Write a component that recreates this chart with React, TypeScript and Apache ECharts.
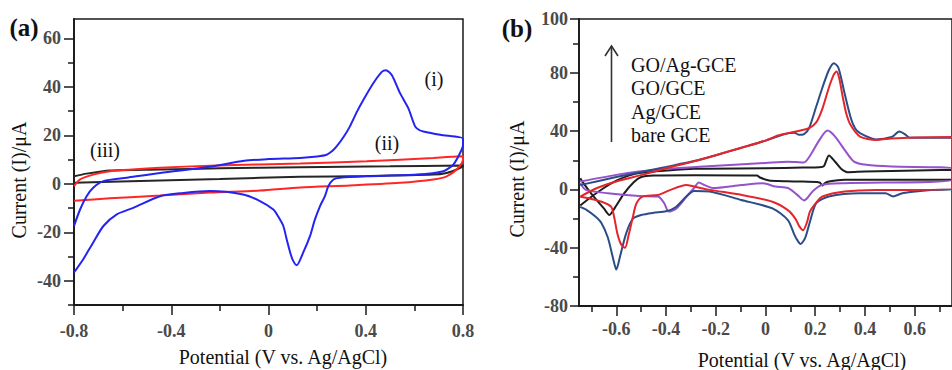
import React, { useEffect, useRef } from "react";
import * as echarts from "echarts";

// ---------- Panel (a) data: [potential V, current µA] ----------
const A_X_TICKS = [-0.8, -0.4, 0, 0.4, 0.8];
const A_Y_TICKS = [-40, -20, 0, 20, 40, 60];
const A_Y_MINOR = [-50, -30, -10, 10, 30, 50];

const A_BLUE_I = [
  [-0.8, -17.4], [-0.775, -10.6], [-0.748, -5.1], [-0.721, -1.6], [-0.679, 1.1], [-0.583, 2.5],
  [-0.446, 4.5], [-0.241, 7.0], [-0.1, 9.5], [0.0, 10.2], [0.13, 10.7], [0.2, 11.3], [0.239, 12.0],
  [0.262, 13.5], [0.281, 15.5], [0.31, 19.5], [0.335, 23.7], [0.365, 30], [0.39, 34.6], [0.431, 41.5],
  [0.466, 46.2], [0.483, 46.9], [0.507, 44.9], [0.541, 37.4], [0.575, 31.2], [0.603, 23.7], [0.62, 22.2],
  [0.637, 21.6], [0.706, 20.2], [0.8, 18.6],
  [0.8, 16], [0.788, 12.7], [0.76, 7.9], [0.719, 5.2], [0.61, 3.8], [0.404, 3.1], [0.294, 2.5],
  [0.267, 1.8], [0.246, -1.0], [0.232, -5.1], [0.212, -9.2], [0.19, -15], [0.171, -21.5], [0.143, -28.3],
  [0.116, -33.6], [0.1, -31.5], [0.089, -28.3], [0.075, -23], [0.061, -17.4], [0.04, -13.5], [0.02, -10.6],
  [-0.035, -7.1], [-0.104, -4.4], [-0.241, -3.0], [-0.35, -3.8], [-0.446, -5.1], [-0.556, -9.9],
  [-0.624, -12.6], [-0.679, -17.4], [-0.721, -24.2], [-0.762, -31.1], [-0.8, -36.6],
];
const A_RED_II = [
  [-0.8, -1], [-0.775, 1.8], [-0.721, 3.8], [-0.652, 5.2], [-0.446, 6.6], [-0.241, 7.5], [-0.035, 8.0],
  [0.13, 8.4], [0.404, 9.3], [0.678, 10.7], [0.8, 11.4],
  [0.8, 10], [0.774, 5.9], [0.733, 3.1], [0.678, 1.8], [0.541, 0.4], [0.335, -0.7], [0.13, -1.5],
  [-0.035, -2.8], [-0.241, -3.6], [-0.446, -4.8], [-0.652, -6.0], [-0.8, -7.0],
];
const A_BLACK_III = [
  [-0.8, 3.1], [-0.748, 4.2], [-0.652, 5.5], [-0.446, 5.9], [-0.2, 6.4], [0.13, 6.8], [0.5, 7.2], [0.8, 7.6],
  [0.8, 7.2], [0.774, 5.9], [0.733, 4.5], [0.678, 3.8], [0.4, 3.2], [0.13, 2.9], [-0.2, 2.0], [-0.446, 1.4],
  [-0.8, 0.4],
];

// ---------- Panel (b) data ----------
const B_X_TICKS = [-0.6, -0.4, -0.2, 0, 0.2, 0.4, 0.6];
const B_X_MINOR = [-0.7, -0.5, -0.3, -0.1, 0.1, 0.3, 0.5, 0.7];
const B_Y_TICKS = [-80, -40, 0, 40, 80, 117];
const B_Y_TICK_TEXT = ["-80", "-40", "0", "40", "80", "100"];
const B_Y_MINOR = [-60, -20, 20, 60, 100];
const LEGEND_NAMES = ["GO/Ag-GCE", "GO/GCE", "Ag/GCE", "bare GCE"];

const B_GO_AG = [
  [-0.745, 3], [-0.68, 5.5], [-0.6, 8.5], [-0.5, 12], [-0.4, 15.5], [-0.287, 19.5], [-0.2, 23.5],
  [-0.1, 28.5], [0, 33.5], [0.05, 36.5], [0.09, 38.5], [0.116, 39], [0.135, 37.5], [0.155, 38],
  [0.175, 42], [0.204, 56.9], [0.229, 70], [0.255, 82], [0.275, 86.7], [0.292, 84], [0.305, 76],
  [0.318, 66], [0.343, 49], [0.36, 42], [0.38, 38.6], [0.444, 34.3], [0.507, 36], [0.538, 39.7],
  [0.56, 38], [0.58, 35.5], [0.75, 35.5],
  [0.75, 0], [0.665, -0.3], [0.55, -2.6], [0.513, -4.8], [0.483, -2.6], [0.38, -2.6], [0.255, -4.8],
  [0.204, -9.4], [0.179, -22], [0.16, -33], [0.141, -37.5], [0.125, -34], [0.116, -31], [0.09, -21],
  [0.028, -13], [-0.098, -7.2], [-0.224, -1.4], [-0.287, -1.0], [-0.319, -4.9], [-0.36, -12],
  [-0.4, -15], [-0.45, -16], [-0.5, -17.5], [-0.533, -20], [-0.56, -30], [-0.585, -46], [-0.6, -55],
  [-0.612, -48], [-0.634, -33], [-0.66, -23], [-0.684, -18.6], [-0.72, -14], [-0.745, -12],
];
const B_GO = [
  [-0.745, -5], [-0.68, 0.8], [-0.6, 5.5], [-0.508, 9.5], [-0.4, 14.5], [-0.287, 19.3], [-0.2, 23.5],
  [-0.1, 28.5], [0, 33.5], [0.05, 37], [0.1, 39], [0.141, 40.5], [0.175, 42], [0.204, 46], [0.229, 55.5],
  [0.255, 70], [0.275, 79], [0.286, 81], [0.297, 76], [0.31, 64], [0.325, 52], [0.343, 44], [0.38, 36.3],
  [0.444, 34.0], [0.507, 35], [0.6, 35.7], [0.75, 36],
  [0.75, 0.5], [0.57, -0.3], [0.444, -0.3], [0.318, -1.4], [0.229, -4.8], [0.204, -9], [0.179, -15],
  [0.166, -23], [0.151, -28], [0.135, -25], [0.12, -20], [0.09, -14.2], [0.028, -8.4], [-0.098, -3.7],
  [-0.224, -0.3], [-0.287, 2.0], [-0.319, 3.1], [-0.382, -0.3], [-0.432, -3.8], [-0.495, -4.9],
  [-0.52, -10], [-0.533, -18.6], [-0.55, -31], [-0.565, -40], [-0.58, -38], [-0.596, -30],
  [-0.609, -18.6], [-0.621, -11.8], [-0.659, -8.4], [-0.71, -6.1], [-0.745, -5],
];
const B_AG = [
  [-0.745, 5.4], [-0.6, 10], [-0.508, 12.3], [-0.4, 14.2], [-0.25, 15.7], [0, 18.2], [0.09, 19.1],
  [0.154, 18.5], [0.179, 23.1], [0.217, 34], [0.249, 40.4], [0.28, 36.3], [0.318, 27.2], [0.356, 19.1],
  [0.406, 16.9], [0.507, 15.7], [0.75, 14.4],
  [0.75, 6.6], [0.318, 4.3], [0.229, 3.2], [0.191, -1.0], [0.17, -5.5], [0.155, -7.5], [0.128, -3.7],
  [0.09, 1], [0.04, 2], [-0.01, 4.2], [-0.098, 3], [-0.211, 1], [-0.245, 3], [-0.268, 4.7], [-0.287, 1],
  [-0.306, -2.6], [-0.357, -12.9], [-0.39, -15.2], [-0.407, -9.5], [-0.432, -4.9], [-0.508, -4.5],
  [-0.634, -2.6], [-0.722, -0.3], [-0.745, 4.3],
];
const B_BARE = [
  [-0.745, -11], [-0.7, -5], [-0.65, 1], [-0.6, 6], [-0.55, 9.5], [-0.5, 11.5], [-0.4, 13],
  [-0.287, 14.2], [0, 14.5], [0.15, 15], [0.217, 15.2], [0.235, 16], [0.255, 23.3], [0.28, 19],
  [0.305, 14], [0.33, 11.8], [0.4, 12.3], [0.75, 13.6],
  [0.75, 6.6], [0.318, 6.6], [0.255, 5.5], [0.24, 4.5], [0.229, 2.7], [0.217, 4.8], [0.129, 5.5],
  [0.05, 5.8], [0.015, 6.1], [-0.02, 8], [-0.035, 9.5], [-0.287, 9.7], [-0.45, 9.5], [-0.5, 8.5],
  [-0.53, 5], [-0.57, -3], [-0.6, -11], [-0.628, -17.5], [-0.65, -13], [-0.7, -3], [-0.735, 5],
  [-0.745, 7.7],
];

const SERIF = "Liberation Serif";
const AXIS_COLOR = "#1a1a1a";
const LABEL_STYLE = { color: "#4a4a4a", fontFamily: SERIF, fontSize: 18, fontWeight: "bold" as const };

function lineSeries(name: string, data: number[][], color: string, xi: number, yi: number) {
  return {
    name,
    type: "line",
    xAxisIndex: xi,
    yAxisIndex: yi,
    data,
    showSymbol: false,
    smooth: 0.25,
    lineStyle: { color, width: 2 },
    itemStyle: { color },
    z: 3,
  };
}

function txt(text: string, x: number, y: number, size: number, opts: any = {}) {
  return {
    type: "text",
    x,
    y,
    rotation: opts.rotation || 0,
    z: 10,
    style: {
      text,
      fill: opts.fill || "#111",
      fontSize: size,
      fontFamily: SERIF,
      fontWeight: opts.bold ? "bold" : "normal",
      align: opts.align || "center",
      verticalAlign: "middle",
      textAlign: opts.align || "center",
      textVerticalAlign: "middle",
    },
  };
}

export default function App() {
  const ref = useRef<HTMLDivElement>(null);
  useEffect(() => {
    if (!ref.current) return;
    const chart = echarts.init(ref.current, undefined, { renderer: "svg" });
    const baseAxisLine = { show: true, onZero: false, lineStyle: { color: AXIS_COLOR, width: 1.8 } };
    const option: any = {
      animation: false,
      backgroundColor: "#ffffff",
      textStyle: { fontFamily: SERIF },
      grid: [
        { left: 74, top: 19, width: 389, height: 286, show: true, borderColor: AXIS_COLOR, borderWidth: 1.5, backgroundColor: "transparent" },
        { left: 579, top: 19, width: 394, height: 287, show: true, borderColor: AXIS_COLOR, borderWidth: 1.5, backgroundColor: "transparent" },
      ],
      xAxis: [
        {
          type: "value", gridIndex: 0, min: -0.8, max: 0.8, interval: 0.4,
          axisLine: baseAxisLine,
          axisTick: { show: true, length: 10, lineStyle: { color: AXIS_COLOR, width: 1.5 }, customValues: A_X_TICKS },
          minorTick: { show: true, splitNumber: 2, length: 6, lineStyle: { color: AXIS_COLOR, width: 1.5 } },
          axisLabel: { ...LABEL_STYLE, margin: 17, customValues: A_X_TICKS },
          splitLine: { show: false },
        },
        {
          type: "value", gridIndex: 1, min: -0.75, max: 0.75,
          axisLine: baseAxisLine,
          axisTick: { show: true, length: 10, lineStyle: { color: AXIS_COLOR, width: 1.5 }, customValues: B_X_TICKS },
          axisLabel: { ...LABEL_STYLE, margin: 14, customValues: B_X_TICKS },
          splitLine: { show: false },
        },
        {
          type: "value", gridIndex: 1, min: -0.75, max: 0.75, position: "bottom",
          axisLine: { show: false, onZero: false },
          axisTick: { show: true, length: 6, lineStyle: { color: AXIS_COLOR, width: 1.5 }, customValues: B_X_MINOR },
          axisLabel: { show: false },
          splitLine: { show: false },
        },
      ],
      yAxis: [
        {
          type: "value", gridIndex: 0, min: -50, max: 68, position: "left",
          axisLine: baseAxisLine,
          axisTick: { show: true, length: 10, lineStyle: { color: AXIS_COLOR, width: 1.5 }, customValues: A_Y_TICKS },
          axisLabel: { ...LABEL_STYLE, margin: 13, customValues: A_Y_TICKS },
          splitLine: { show: false },
        },
        {
          type: "value", gridIndex: 0, min: -50, max: 68, position: "left", offset: 0,
          axisLine: { show: false, onZero: false },
          axisTick: { show: true, length: 6, lineStyle: { color: AXIS_COLOR, width: 1.5 }, customValues: A_Y_MINOR },
          axisLabel: { show: false },
          splitLine: { show: false },
        },
        {
          type: "value", gridIndex: 1, min: -80, max: 117, position: "left",
          axisLine: baseAxisLine,
          axisTick: { show: true, length: 9, lineStyle: { color: AXIS_COLOR, width: 1.5 }, customValues: B_Y_TICKS },
          axisLabel: {
            ...LABEL_STYLE, margin: 11, customValues: B_Y_TICKS,
            formatter: (v: number) => {
              const i = B_Y_TICKS.indexOf(v);
              return i >= 0 ? B_Y_TICK_TEXT[i] : String(v);
            },
          },
          splitLine: { show: false },
        },
        {
          type: "value", gridIndex: 1, min: -80, max: 117, position: "left", offset: 0,
          axisLine: { show: false, onZero: false },
          axisTick: { show: true, length: 6, lineStyle: { color: AXIS_COLOR, width: 1.5 }, customValues: B_Y_MINOR },
          axisLabel: { show: false },
          splitLine: { show: false },
        },
      ],
      series: [
        lineSeries("(iii)", A_BLACK_III, "#262626", 0, 0),
        lineSeries("(ii)", A_RED_II, "#ff2626", 0, 0),
        lineSeries("(i)", A_BLUE_I, "#2424f2", 0, 0),
        lineSeries(LEGEND_NAMES[3], B_BARE, "#1e1e1e", 1, 2),
        lineSeries(LEGEND_NAMES[2], B_AG, "#9552cc", 1, 2),
        lineSeries(LEGEND_NAMES[0], B_GO_AG, "#2c4c88", 1, 2),
        lineSeries(LEGEND_NAMES[1], B_GO, "#e3262b", 1, 2),
      ],
      graphic: [
        txt("(a)", 24, 27, 25, { bold: true }),
        txt("(b)", 517, 28, 25, { bold: true }),
        txt("Current (I)/\u03bcA", 19, 180, 20, { rotation: Math.PI / 2 }),
        txt("Current (I)/\u03bcA", 517, 179, 20, { rotation: Math.PI / 2 }),
        txt("Potential (V vs. Ag/AgCl)", 283, 357, 20),
        txt("Potential (V vs. Ag/AgCl)", 802, 360, 20),
        txt("(i)", 434, 79, 20),
        txt("(ii)", 387, 143, 20),
        txt("(iii)", 105, 150, 20),
        txt(LEGEND_NAMES[0], 631, 65, 20, { align: "left" }),
        txt(LEGEND_NAMES[1], 631, 88, 20, { align: "left" }),
        txt(LEGEND_NAMES[2], 631, 111.5, 20, { align: "left" }),
        txt(LEGEND_NAMES[3], 631, 135, 20, { align: "left" }),
        {
          type: "line", z: 10,
          shape: { x1: 611.5, y1: 142, x2: 611.5, y2: 46 },
          style: { stroke: "#333", lineWidth: 1.6 },
        },
        {
          type: "polyline", z: 10,
          shape: { points: [[605, 56], [611.5, 46], [618, 56]] },
          style: { stroke: "#333", lineWidth: 1.6, fill: "none" },
        },
      ],
    };
    chart.setOption(option);
    return () => chart.dispose();
  }, []);
  return (
    <div
      ref={ref}
      style={{ position: "absolute", left: 0, top: 0, width: 952, height: 370, background: "#fff", overflow: "hidden" }}
    />
  );
}
